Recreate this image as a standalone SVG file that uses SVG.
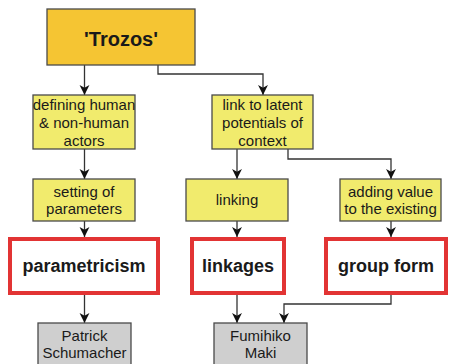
<svg xmlns="http://www.w3.org/2000/svg" width="449" height="364" viewBox="0 0 449 364">
  <defs>
    <marker id="arrow" markerUnits="userSpaceOnUse" markerWidth="11" markerHeight="11" viewBox="0 0 10 10" refX="9" refY="5" orient="auto">
      <path d="M0,0.5 L9,5 L0,9.5 L2.5,5 Z" fill="#111"/>
    </marker>
  </defs>
  <style>
    text { font-family: "Liberation Sans", Arial, sans-serif; text-anchor: middle; fill: #1a1a1a; }
    .main rect { fill: #f5c533; stroke: #4a4a4a; stroke-width: 1.3; }
    .main text { font-size: 20px; font-weight: bold; }
    .step rect { fill: #f1eb6d; stroke: #4a4a4a; stroke-width: 1.3; }
    .step text { font-size: 15px; }
    .concept rect { fill: #ffffff; stroke: #e23434; stroke-width: 4; }
    .concept text { font-size: 18px; font-weight: bold; }
    .person rect { fill: #cfcfcf; stroke: #4a4a4a; stroke-width: 1.3; }
    .person text { font-size: 15px; }
    .connectors path { fill: none; stroke: #333; stroke-width: 1.3; marker-end: url(#arrow); }
  </style>
  <rect width="449" height="364" fill="#ffffff"/>

  <g class="connectors" id="connectors">
    <path d="M84.5,65 V95"/>
    <path d="M158,65 V74 H263 V95"/>
    <path d="M84.5,149 V179"/>
    <path d="M237,149 V179"/>
    <path d="M288,149 V159 H391 V179"/>
    <path d="M84.5,221 V237"/>
    <path d="M237,221 V237"/>
    <path d="M391,221 V237"/>
    <path d="M84.5,295 V323"/>
    <path d="M237,295 V323"/>
    <path d="M391,295 V304 H284 V323"/>
  </g>

  <g id="trozos" class="main">
    <rect x="47" y="9" width="148" height="56"/>
    <text x="121" y="46">'Trozos'</text>
  </g>

  <g id="defining" class="step">
    <rect x="33" y="95" width="102" height="54"/>
    <text x="84" y="110">defining human</text>
    <text x="84" y="128">&amp; non-human</text>
    <text x="84" y="146">actors</text>
  </g>

  <g id="link-latent" class="step">
    <rect x="212" y="95" width="101" height="54"/>
    <text x="262.5" y="110">link to latent</text>
    <text x="262.5" y="128">potentials of</text>
    <text x="262.5" y="146">context</text>
  </g>

  <g id="setting" class="step">
    <rect x="33" y="179" width="102" height="42"/>
    <text x="84" y="197">setting of</text>
    <text x="84" y="214">parameters</text>
  </g>

  <g id="linking" class="step">
    <rect x="186" y="179" width="102" height="42"/>
    <text x="237" y="205">linking</text>
  </g>

  <g id="adding" class="step">
    <rect x="340" y="179" width="101" height="42"/>
    <text x="390.5" y="197">adding value</text>
    <text x="390.5" y="214">to the existing</text>
  </g>

  <g id="parametricism" class="concept">
    <rect x="10" y="239" width="148" height="54"/>
    <text x="84" y="272">parametricism</text>
  </g>

  <g id="linkages" class="concept">
    <rect x="192" y="239" width="92" height="54"/>
    <text x="238" y="272">linkages</text>
  </g>

  <g id="group-form" class="concept">
    <rect x="326" y="239" width="120" height="54"/>
    <text x="386" y="272">group form</text>
  </g>

  <g id="schumacher" class="person">
    <rect x="38" y="323" width="93" height="50"/>
    <text x="84.5" y="341">Patrick</text>
    <text x="84.5" y="358">Schumacher</text>
  </g>

  <g id="maki" class="person">
    <rect x="214" y="323" width="93" height="50"/>
    <text x="260.5" y="341">Fumihiko</text>
    <text x="260.5" y="358">Maki</text>
  </g>
</svg>
